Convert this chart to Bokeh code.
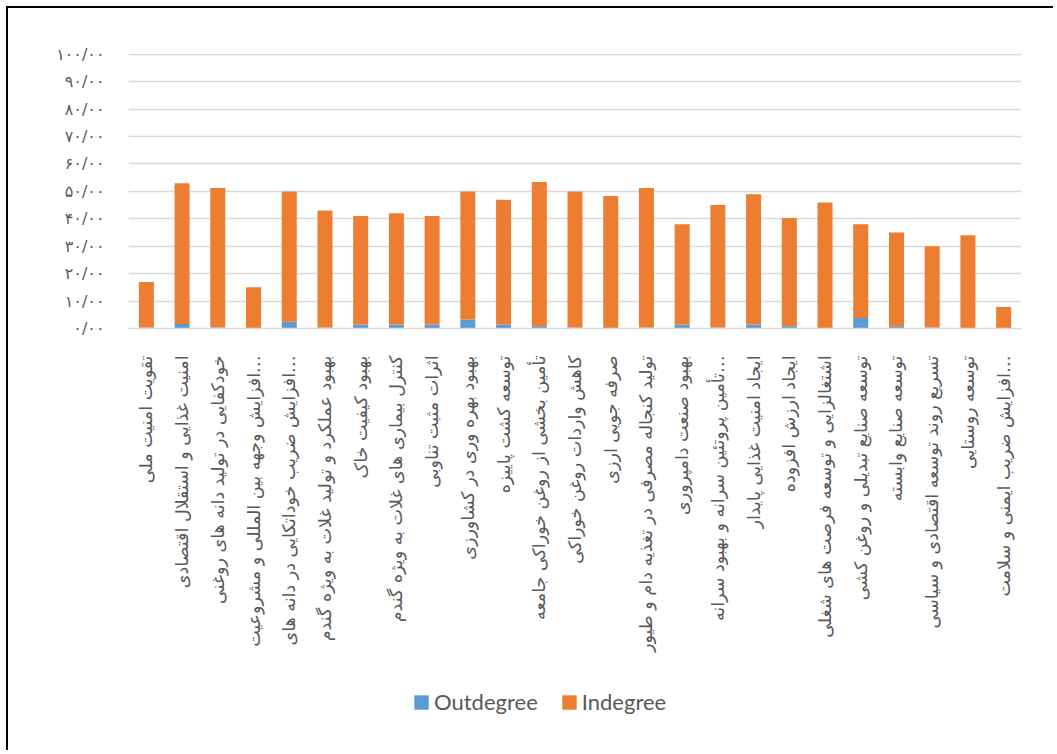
import math
from bokeh.plotting import figure
from bokeh.layouts import column
from bokeh.models import Legend, LegendItem, ColumnDataSource, FixedTicker, FactorRange, Range1d
from bokeh.embed import file_html
from bokeh.resources import INLINE

categories = [
    "تقویت امنیت ملی",
    "امنیت غذایی و استقلال اقتصادی",
    "خودکفایی در تولید دانه های روغنی",
    "افزایش وجهه بین المللی و مشروعیت…",
    "افزایش ضریب خوداتکایی در دانه های…",
    "بهبود عملکرد و تولید غلات به ویژه گندم",
    "بهبود کیفیت خاک",
    "کنترل بیماری های غلات به ویژه گندم",
    "اثرات مثبت تناوبی",
    "بهبود بهره وری در کشاورزی",
    "توسعه کشت پاییزه",
    "تأمین بخشی از روغن خوراکی جامعه",
    "کاهش واردات روغن خوراکی",
    "صرفه جویی ارزی",
    "تولید کنجاله مصرفی در تغذیه دام و طیور",
    "بهبود صنعت دامپروری",
    "تأمین پروتئین سرانه و بهبود سرانه…",
    "ایجاد امنیت غذایی پایدار",
    "ایجاد ارزش افزوده",
    "اشتغالزایی و توسعه فرصت های شغلی",
    "توسعه صنایع تبدیلی و روغن کشی",
    "توسعه صنایع وابسته",
    "تسریع روند توسعه اقتصادی و سیاسی",
    "توسعه روستایی",
    "افزایش ضریب ایمنی و سلامت…",
]

outdegree = [0.4, 1.6, 0.4, 0.0, 2.5, 0.4, 1.5, 1.5, 1.5, 3.3, 1.5, 0.8, 0.4,
             0.0, 0.4, 1.5, 0.4, 1.5, 0.8, 0.0, 3.8, 0.8, 0.4, 0.0, 0.0]
indegree = [16.6, 51.4, 50.8, 15.0, 47.5, 42.6, 39.5, 40.5, 39.5, 46.7, 45.5, 52.6, 49.6,
            48.3, 50.8, 36.5, 44.6, 47.5, 39.5, 46.0, 34.2, 34.2, 29.6, 34.0, 7.8]

series_names = ["Outdegree", "Indegree"]
series_colors = ["#5B9BD5", "#ED7D31"]

y_ticks = [0, 10, 20, 30, 40, 50, 60, 70, 80, 90, 100]
y_tick_labels = ["۰/۰۰", "۱۰/۰۰", "۲۰/۰۰", "۳۰/۰۰", "۴۰/۰۰", "۵۰/۰۰",
                 "۶۰/۰۰", "۷۰/۰۰", "۸۰/۰۰", "۹۰/۰۰", "۱۰۰/۰۰"]

source = ColumnDataSource(dict(cat=categories, Outdegree=outdegree, Indegree=indegree))

# ---- main chart ----
p = figure(
    width=1047, height=660,
    x_range=FactorRange(*categories, range_padding=0),
    y_range=Range1d(0, 100.3),
    output_backend="svg", toolbar_location=None,
    min_border_left=120, min_border_right=34, min_border_top=45, min_border_bottom=340,
)
p.styles = {"margin-left": "6px", "margin-top": "6px",
            "border-left": "2px solid black", "border-top": "2px solid black"}
p.outline_line_color = None
p.background_fill_color = "white"
p.border_fill_color = "white"

renderers = p.vbar_stack(series_names, x="cat", width=0.42, color=series_colors,
                         source=source, line_color=None)

p.xgrid.grid_line_color = None
p.ygrid.grid_line_color = "#d9d9d9"
p.ygrid.grid_line_width = 1.5
p.yaxis.ticker = FixedTicker(ticks=y_ticks)
p.yaxis.major_label_overrides = {t: l for t, l in zip(y_ticks, y_tick_labels)}

p.yaxis.axis_line_color = None
p.yaxis.major_tick_line_color = None
p.yaxis.minor_tick_line_color = None
p.yaxis.major_label_standoff = 18
p.yaxis.major_label_text_font = "DejaVu Sans"
p.yaxis.major_label_text_font_size = "16px"
p.yaxis.major_label_text_color = "#595959"

p.xaxis.axis_line_color = "#d9d9d9"
p.xaxis.axis_line_width = 1.5
p.xaxis.major_tick_line_color = None
p.xaxis.minor_tick_line_color = None
p.xaxis.major_label_orientation = math.pi / 2
p.xaxis.major_label_standoff = 21
p.xaxis.major_label_text_font = "DejaVu Sans"
p.xaxis.major_label_text_font_size = "17.5px"
p.xaxis.major_label_text_color = "#595959"

# ---- legend strip (same series, drawn out of view; only its legend shows) ----
lg = figure(
    width=1047, height=84,
    x_range=FactorRange(*categories, range_padding=0),
    y_range=Range1d(1000, 1001),
    output_backend="svg", toolbar_location=None,
    min_border=0,
)
lg.styles = {"margin-left": "6px", "border-left": "2px solid black"}
lg.axis.visible = False
lg.grid.visible = False
lg.outline_line_color = None
lg.background_fill_color = "white"
lg.border_fill_color = "white"

legend_renderers = lg.vbar_stack(series_names, x="cat", width=0.42, color=series_colors,
                                 source=source, line_color=None)
legend = Legend(
    items=[LegendItem(label=series_names[i], renderers=[legend_renderers[i]]) for i in range(2)],
    orientation="horizontal",
    location=(284, 35),
    glyph_width=18, glyph_height=18,
    label_standoff=4, spacing=22, padding=0, margin=0,
    border_line_color=None, background_fill_alpha=0,
    label_text_font="Lato", label_text_font_size="22px", label_text_color="#595959",
)
lg.add_layout(legend, "center")

layout = column(p, lg, spacing=0)
open("out.html", "w").write(file_html(layout, INLINE))
